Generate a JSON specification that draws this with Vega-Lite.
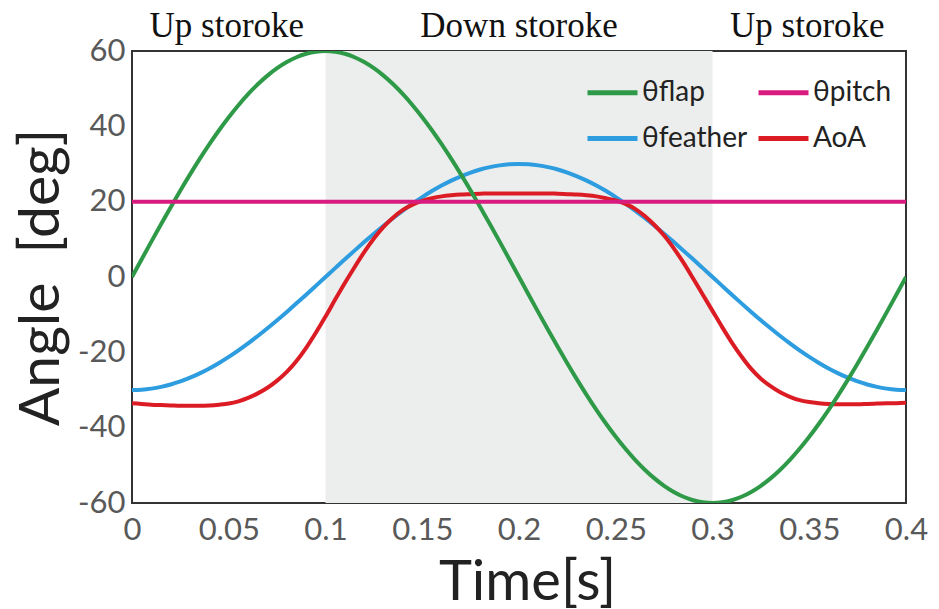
{
  "$schema": "https://vega.github.io/schema/vega-lite/v6.json",
  "width": 774,
  "height": 452,
  "autosize": "none",
  "padding": {"left": 132, "top": 51, "right": 33, "bottom": 106},
  "background": "white",
  "config": {
    "view": {"stroke": "#333333", "strokeWidth": 2},
    "font": "Lato"
  },
  "layer": [
    {
      "data": {"values": [{"start": 0.1, "end": 0.3}]},
      "mark": {"type": "rect", "color": "#eceeed"},
      "encoding": {
        "x": {"field": "start", "type": "quantitative", "scale": {"domain": [0, 0.4], "nice": false, "zero": false},
          "axis": {"values": [0, 0.05, 0.1, 0.15, 0.2, 0.25, 0.3, 0.35, 0.4], "format": "~g", "title": "Time[s]",
            "domain": false, "ticks": false, "grid": false, "labelFont": "Lato", "labelFontSize": 31, "labelColor": "#595959",
            "labelPadding": 12, "labelFlush": false, "labelOverlap": false,
            "titleFont": "Lato", "titleFontSize": 56, "titleFontWeight": "normal", "titleColor": "#222222", "titlePadding": 10, "titleX": 395}},
        "x2": {"field": "end"}
      }
    },
    {
      "data": {"values": [
        {"t":0,"fl":0,"fe":-30,"a":-33.5,"p":20},
        {"t":0.005,"fl":4.71,"fe":-29.91,"a":-33.7,"p":20},
        {"t":0.01,"fl":9.39,"fe":-29.63,"a":-33.9,"p":20},
        {"t":0.015,"fl":14.01,"fe":-29.17,"a":-34.0,"p":20},
        {"t":0.02,"fl":18.54,"fe":-28.53,"a":-34.1,"p":20},
        {"t":0.025,"fl":22.96,"fe":-27.72,"a":-34.2,"p":20},
        {"t":0.03,"fl":27.24,"fe":-26.73,"a":-34.2,"p":20},
        {"t":0.035,"fl":31.35,"fe":-25.58,"a":-34.2,"p":20},
        {"t":0.04,"fl":35.27,"fe":-24.27,"a":-34.1,"p":20},
        {"t":0.045,"fl":38.97,"fe":-22.81,"a":-33.9,"p":20},
        {"t":0.05,"fl":42.43,"fe":-21.21,"a":-33.6,"p":20},
        {"t":0.055,"fl":45.62,"fe":-19.48,"a":-33.0,"p":20},
        {"t":0.06,"fl":48.54,"fe":-17.63,"a":-32.1,"p":20},
        {"t":0.065,"fl":51.16,"fe":-15.67,"a":-30.9,"p":20},
        {"t":0.07,"fl":53.46,"fe":-13.62,"a":-29.4,"p":20},
        {"t":0.075,"fl":55.43,"fe":-11.48,"a":-27.5,"p":20},
        {"t":0.08,"fl":57.06,"fe":-9.27,"a":-25.2,"p":20},
        {"t":0.085,"fl":58.34,"fe":-7.00,"a":-22.3,"p":20},
        {"t":0.09,"fl":59.26,"fe":-4.69,"a":-18.8,"p":20},
        {"t":0.095,"fl":59.82,"fe":-2.35,"a":-14.8,"p":20},
        {"t":0.1,"fl":60,"fe":0,"a":-10.5,"p":20},
        {"t":0.105,"fl":59.82,"fe":2.35,"a":-6.0,"p":20},
        {"t":0.11,"fl":59.26,"fe":4.69,"a":-1.6,"p":20},
        {"t":0.115,"fl":58.34,"fe":7.00,"a":2.6,"p":20},
        {"t":0.12,"fl":57.06,"fe":9.27,"a":6.6,"p":20},
        {"t":0.125,"fl":55.43,"fe":11.48,"a":10.2,"p":20},
        {"t":0.13,"fl":53.46,"fe":13.62,"a":13.3,"p":20},
        {"t":0.135,"fl":51.16,"fe":15.67,"a":15.8,"p":20},
        {"t":0.14,"fl":48.54,"fe":17.63,"a":17.8,"p":20},
        {"t":0.145,"fl":45.62,"fe":19.48,"a":19.2,"p":20},
        {"t":0.15,"fl":42.43,"fe":21.21,"a":20.2,"p":20},
        {"t":0.155,"fl":38.97,"fe":22.81,"a":20.9,"p":20},
        {"t":0.16,"fl":35.27,"fe":24.27,"a":21.4,"p":20},
        {"t":0.165,"fl":31.35,"fe":25.58,"a":21.7,"p":20},
        {"t":0.17,"fl":27.24,"fe":26.73,"a":21.9,"p":20},
        {"t":0.175,"fl":22.96,"fe":27.72,"a":22.0,"p":20},
        {"t":0.18,"fl":18.54,"fe":28.53,"a":22.1,"p":20},
        {"t":0.185,"fl":14.01,"fe":29.17,"a":22.2,"p":20},
        {"t":0.19,"fl":9.39,"fe":29.63,"a":22.2,"p":20},
        {"t":0.195,"fl":4.71,"fe":29.91,"a":22.2,"p":20},
        {"t":0.2,"fl":0,"fe":30,"a":22.2,"p":20},
        {"t":0.205,"fl":-4.71,"fe":29.91,"a":22.2,"p":20},
        {"t":0.21,"fl":-9.39,"fe":29.63,"a":22.2,"p":20},
        {"t":0.215,"fl":-14.01,"fe":29.17,"a":22.2,"p":20},
        {"t":0.22,"fl":-18.54,"fe":28.53,"a":22.1,"p":20},
        {"t":0.225,"fl":-22.96,"fe":27.72,"a":22.0,"p":20},
        {"t":0.23,"fl":-27.24,"fe":26.73,"a":21.9,"p":20},
        {"t":0.235,"fl":-31.35,"fe":25.58,"a":21.7,"p":20},
        {"t":0.24,"fl":-35.27,"fe":24.27,"a":21.4,"p":20},
        {"t":0.245,"fl":-38.97,"fe":22.81,"a":20.9,"p":20},
        {"t":0.25,"fl":-42.43,"fe":21.21,"a":20.3,"p":20},
        {"t":0.255,"fl":-45.62,"fe":19.48,"a":19.4,"p":20},
        {"t":0.26,"fl":-48.54,"fe":17.63,"a":18.1,"p":20},
        {"t":0.265,"fl":-51.16,"fe":15.67,"a":16.2,"p":20},
        {"t":0.27,"fl":-53.46,"fe":13.62,"a":13.8,"p":20},
        {"t":0.275,"fl":-55.43,"fe":11.48,"a":11.0,"p":20},
        {"t":0.28,"fl":-57.06,"fe":9.27,"a":7.6,"p":20},
        {"t":0.285,"fl":-58.34,"fe":7.00,"a":3.8,"p":20},
        {"t":0.29,"fl":-59.26,"fe":4.69,"a":-0.4,"p":20},
        {"t":0.295,"fl":-59.82,"fe":2.35,"a":-4.7,"p":20},
        {"t":0.3,"fl":-60,"fe":0,"a":-9.0,"p":20},
        {"t":0.305,"fl":-59.82,"fe":-2.35,"a":-13.3,"p":20},
        {"t":0.31,"fl":-59.26,"fe":-4.69,"a":-17.4,"p":20},
        {"t":0.315,"fl":-58.34,"fe":-7.00,"a":-21.1,"p":20},
        {"t":0.32,"fl":-57.06,"fe":-9.27,"a":-24.4,"p":20},
        {"t":0.325,"fl":-55.43,"fe":-11.48,"a":-27.0,"p":20},
        {"t":0.33,"fl":-53.46,"fe":-13.62,"a":-29.0,"p":20},
        {"t":0.335,"fl":-51.16,"fe":-15.67,"a":-30.6,"p":20},
        {"t":0.34,"fl":-48.54,"fe":-17.63,"a":-31.8,"p":20},
        {"t":0.345,"fl":-45.62,"fe":-19.48,"a":-32.7,"p":20},
        {"t":0.35,"fl":-42.43,"fe":-21.21,"a":-33.2,"p":20},
        {"t":0.355,"fl":-38.97,"fe":-22.81,"a":-33.5,"p":20},
        {"t":0.36,"fl":-35.27,"fe":-24.27,"a":-33.7,"p":20},
        {"t":0.365,"fl":-31.35,"fe":-25.58,"a":-33.8,"p":20},
        {"t":0.37,"fl":-27.24,"fe":-26.73,"a":-33.8,"p":20},
        {"t":0.375,"fl":-22.96,"fe":-27.72,"a":-33.8,"p":20},
        {"t":0.38,"fl":-18.54,"fe":-28.53,"a":-33.7,"p":20},
        {"t":0.385,"fl":-14.01,"fe":-29.17,"a":-33.6,"p":20},
        {"t":0.39,"fl":-9.39,"fe":-29.63,"a":-33.5,"p":20},
        {"t":0.395,"fl":-4.71,"fe":-29.91,"a":-33.5,"p":20},
        {"t":0.4,"fl":0,"fe":-30,"a":-33.4,"p":20}
      ]},
      "transform": [{"fold": ["fe", "a", "fl", "p"], "as": ["s", "v"]}],
      "mark": {"type": "line", "interpolate": "monotone", "strokeWidth": 4, "clip": true},
      "encoding": {
        "x": {"field": "t", "type": "quantitative"},
        "y": {"field": "v", "type": "quantitative", "scale": {"domain": [-60, 60], "nice": false, "zero": false},
          "axis": {"values": [-60, -40, -20, 0, 20, 40, 60], "title": "Angle\u00a0\u00a0[deg]",
            "labelExpr": "datum.value < 0 ? '-' + abs(datum.value) : '' + datum.value",
            "domain": false, "ticks": false, "grid": false, "labelFont": "Lato", "labelFontSize": 31, "labelColor": "#595959",
            "labelPadding": 7, "labelFlush": false, "labelOverlap": false,
            "titleFont": "Lato", "titleFontSize": 57, "titleFontWeight": "normal", "titleColor": "#222222", "titlePadding": 7}},
        "color": {"field": "s", "type": "nominal",
          "scale": {"domain": ["fl", "p", "fe", "a"], "range": ["#2e9a48", "#d81b7f", "#2d9de0", "#dc1c24"]},
          "legend": {"title": null, "orient": "top-right", "columns": 2, "direction": "horizontal",
            "symbolType": "stroke", "symbolSize": 2500, "symbolStrokeWidth": 5,
            "labelFont": "Lato", "labelFontSize": 28, "labelColor": "#222222", "labelOffset": 2, "labelLimit": 300,
            "rowPadding": 4, "columnPadding": 0, "offset": 14,
            "labelExpr": "datum.value == 'fl' ? 'θflap' : datum.value == 'p' ? 'θpitch' : datum.value == 'fe' ? 'θfeather' : 'AoA'"}},
        "strokeWidth": {"condition": {"test": "datum.s == 'p'", "value": 5}, "value": 4}
      }
    },
    {
      "data": {"values": [
        {"t": 0.049, "label": "Up storoke"},
        {"t": 0.2, "label": "Down storoke"},
        {"t": 0.349, "label": "Up storoke"}
      ]},
      "mark": {"type": "text", "font": "Liberation Serif", "fontSize": 35, "color": "#111111", "baseline": "alphabetic", "dy": -14},
      "encoding": {
        "x": {"field": "t", "type": "quantitative"},
        "y": {"datum": 60},
        "text": {"field": "label"}
      }
    }
  ]
}
